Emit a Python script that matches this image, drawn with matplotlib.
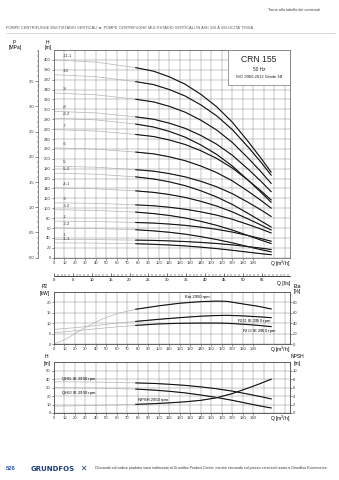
import matplotlib
matplotlib.use("Agg")
import matplotlib.pyplot as plt
from matplotlib.ticker import MultipleLocator, FormatStrFormatter
from matplotlib.patches import Rectangle

plt.rcParams['font.family'] = ['Liberation Sans Narrow', 'Liberation Sans', 'DejaVu Sans']
plt.rcParams['mathtext.default'] = 'regular'

# ---------------- data ----------------
# QH curves, CRN 155 variants (H in m at the flows in q_top)
q_top = [0, 40, 78, 95, 110, 125, 140, 155, 170, 185, 197, 207]
variants = ["-11-1", "-10", "-9", "-8", "-8-2", "-7", "-6", "-5",
            "-5-2", "-4-1", "-3", "-3-2", "-2", "-2-2", "-1", "-1-1"]
h_11_1 = [400, 395.5, 384.3, 377.1, 365.7, 350.8, 330.3, 305.4, 274, 235.2, 202.2, 173]
h_10 = [370, 366, 356, 350, 340, 327, 309, 287, 259, 224, 194, 167]
h_9 = [333, 329.4, 320.4, 315, 306, 294.3, 278.1, 258.3, 233.1, 201.6, 174.6, 150.3]
h_8 = [296, 292.8, 284.8, 280, 272, 261.6, 247.2, 229.6, 207.2, 179.2, 155.2, 133.6]
h_8_2 = [282, 278.6, 270.2, 264.2, 255.4, 243.8, 228, 209, 185.4, 156.8, 132.8, 112.2]
h_7 = [259, 256.2, 249.2, 245, 238, 228.9, 216.3, 200.9, 181.3, 156.8, 135.8, 116.9]
h_6 = [222, 219.6, 213.6, 210, 204, 196.2, 185.4, 172.2, 155.4, 134.4, 116.4, 100.2]
h_5 = [185, 183, 178, 175, 170, 163.5, 154.5, 143.5, 129.5, 112, 97, 83.5]
h_5_2 = [171, 168.8, 163.4, 159.2, 153.4, 145.7, 135.3, 122.9, 107.7, 89.6, 74.6, 62.1]
h_4_1 = [141, 139.3, 135.1, 132.1, 127.7, 121.9, 114, 104.5, 92.7, 78.4, 66.4, 56.1]
h_3 = [111, 109.8, 106.8, 105, 102, 98.1, 92.7, 86.1, 77.7, 67.2, 58.2, 50.1]
h_3_2 = [97, 95.6, 92.2, 89.2, 85.4, 80.3, 73.5, 65.5, 55.9, 44.8, 35.8, 28.7]
h_2 = [74, 73.2, 71.2, 70, 68, 65.4, 61.8, 57.4, 51.8, 44.8, 38.8, 33.4]
h_2_2 = [60, 59, 56.6, 54.2, 51.4, 47.6, 42.6, 36.8, 30, 22.4, 16.4, 12]
h_1 = [37, 36.6, 35.6, 35.0, 34.0, 32.7, 30.9, 28.7, 25.9, 22.4, 19.4, 16.7]
h_1_1 = [30, 29.5, 28.3, 27.1, 25.7, 23.8, 21.3, 18.4, 15.0, 11.2, 8.2, 6.0]
heads = [h_11_1, h_10, h_9, h_8, h_8_2, h_7, h_6, h_5,
         h_5_2, h_4_1, h_3, h_3_2, h_2, h_2_2, h_1, h_1_1]

# power and efficiency
q_pow = [0, 10, 20, 30, 45, 60, 78, 100, 120, 140, 155, 165, 182, 195, 207]
eta = [0, 8, 20, 32, 47, 58, 66.5, 73, 78, 81, 82, 81.5, 76, 72, 67]
p2_full = [7.0, 7.4, 7.8, 8.3, 9.1, 10.0, 10.8, 11.8, 12.6, 13.3, 13.6, 13.7, 13.4, 13.0, 12.6]
p2_red = [5.4, 5.8, 6.3, 6.8, 7.5, 8.2, 8.9, 9.6, 9.9, 10.0, 10.0, 9.9, 9.4, 8.9, 8.3]

# single stage QH and NPSH
q_stage = [0, 40, 78, 95, 110, 125, 140, 155, 170, 185, 197, 207]
qh_full = [37, 36.6, 35.6, 35.0, 34.0, 32.7, 30.9, 28.7, 25.9, 22.4, 19.4, 16.7]
qh_red = [30, 29.5, 28.3, 27.1, 25.7, 23.8, 21.3, 18.4, 15.0, 11.2, 8.2, 6.0]
npsh = [1.6, 1.8, 2.05, 2.2, 2.4, 2.65, 3.0, 3.6, 4.6, 5.9, 7.0, 8.0]

q_ticks = list(range(0, 200, 10))
Q_MAX = 225
Q_DARK = 78

GRID = '#8c8c8c'
LIGHT = '#b4b4b4'
DARK = '#111111'
FS = 3.0

W, H = 339, 480
fig = plt.figure(figsize=(W / 100, H / 100), dpi=100)


def box(x0, y0, x1, y1):
    # pixel box -> figure fraction
    return [x0 / W, 1 - y1 / H, (x1 - x0) / W, (y1 - y0) / H]


def style(ax, ymax, ystep, yticks):
    ax.set_xlim(0, Q_MAX)
    ax.set_ylim(0, ymax)
    ax.set_xticks(q_ticks)
    ax.set_yticks(yticks)
    ax.xaxis.set_minor_locator(MultipleLocator(10))
    ax.yaxis.set_minor_locator(MultipleLocator(ystep))
    ax.grid(True, which='both', color=GRID, lw=0.35)
    ax.tick_params(labelsize=FS, length=1.5, width=0.4, pad=0.8, colors='#333333')
    ax.tick_params(which='minor', length=0)
    for s in ax.spines.values():
        s.set_linewidth(0.5)
        s.set_color('#555555')
    ax.set_axisbelow(True)


def two_tone(ax, q, v, lw=0.8):
    ax.plot(q, v, color=LIGHT, lw=0.5)
    qd = [x for x in q if x >= Q_DARK]
    vd = [y for x, y in zip(q, v) if x >= Q_DARK]
    ax.plot(qd, vd, color=DARK, lw=lw, solid_joinstyle='round')


# ---------------- top chart: QH ----------------
ax = fig.add_axes(box(54, 50, 290, 257.7))
style(ax, 420, 20, list(range(0, 401, 20)))
for name, h in zip(variants, heads):
    two_tone(ax, q_top, h)
    ax.text(8, h[0] + 4, name, fontsize=FS, color='#333333', va='bottom')

pax = ax.secondary_yaxis(-0.068, functions=(lambda h: h * 0.00981, lambda p: p / 0.00981))
pax.set_yticks([0, 0.5, 1.0, 1.5, 2.0, 2.5, 3.0, 3.5])
pax.yaxis.set_minor_locator(MultipleLocator(0.1))
pax.yaxis.set_major_formatter(FormatStrFormatter('%.1f'))
pax.tick_params(labelsize=FS, length=2, width=0.4, pad=0.8, colors='#333333')
pax.tick_params(which='minor', length=1, width=0.3)
pax.spines['left'].set_linewidth(0.5)
pax.spines['left'].set_color('#555555')

ax.add_patch(Rectangle((0.7386, 0.8315), 0.2614, 0.1685, transform=ax.transAxes,
                       facecolor='white', edgecolor='#777777', lw=0.5, zorder=5))
fig.text(259 / W, 1 - 59 / H, "CRN 155", fontsize=6.2, ha='center', va='center', color='#222222')
fig.text(259 / W, 1 - 69.5 / H, "50 Hz", fontsize=3.4, ha='center', va='center', color='#222222')
fig.text(259 / W, 1 - 77.5 / H, "ISO 9906:2012 Grade 3B", fontsize=3.0, ha='center', va='center',
         color='#222222')

fig.text(14 / W, 1 - 42 / H, "p", fontsize=3.6, ha='center', va='center')
fig.text(15 / W, 1 - 48 / H, "[MPa]", fontsize=3.6, ha='center', va='center')
fig.text(47 / W, 1 - 42 / H, "H", fontsize=3.6, ha='center', va='center')
fig.text(48 / W, 1 - 48 / H, "[m]", fontsize=3.6, ha='center', va='center')
fig.text(290 / W, 1 - 263.5 / H, "Q [m$^3$/h]", fontsize=3.6, ha='right', va='center')

# flow in l/s
lax = fig.add_axes(box(54, 270, 290, 276))
lax.set_xlim(0, Q_MAX / 3.6)
lax.set_yticks([])
for s in ['top', 'left', 'right']:
    lax.spines[s].set_visible(False)
lax.spines['bottom'].set_linewidth(0.5)
lax.set_xticks(list(range(0, 60, 5)))
lax.xaxis.set_minor_locator(MultipleLocator(1))
lax.tick_params(axis='x', direction='in', length=2.5, width=0.4, labelsize=FS, pad=1.5)
lax.tick_params(axis='x', which='minor', direction='in', length=1.3, width=0.3)
lax.patch.set_alpha(0)
fig.text(290 / W, 1 - 284 / H, "Q [l/s]", fontsize=3.6, ha='right', va='center')

# ---------------- middle chart: P2 / Eta ----------------
ax_p = fig.add_axes(box(54, 291.7, 290, 344))
style(ax_p, 25, 5, [0, 5, 10, 15, 20])
ax_e = ax_p.twinx()
ax_e.set_ylim(0, 100)
ax_e.set_yticks([0, 20, 40, 60, 80])
ax_e.tick_params(labelsize=FS, length=1.5, width=0.4, pad=0.8, colors='#333333')
for s in ax_e.spines.values():
    s.set_linewidth(0.5)
    s.set_color('#555555')
two_tone(ax_e, q_pow, eta)
two_tone(ax_p, q_pow, p2_full)
two_tone(ax_p, q_pow, p2_red)
ax_e.text(125, 89, "Eta 2950 rpm", fontsize=FS, va='center')
ax_p.text(174, 10.9, "P2$_{1/1}$ IE 2950 rpm", fontsize=FS, va='center')
ax_p.text(179, 6.3, "P2$_{2/3}$ IE 2950 rpm", fontsize=FS, va='center')
fig.text(45 / W, 1 - 287 / H, "P2", fontsize=3.6, ha='center', va='center')
fig.text(45 / W, 1 - 293 / H, "[kW]", fontsize=3.6, ha='center', va='center')
fig.text(297 / W, 1 - 286 / H, "Eta", fontsize=3.6, ha='center', va='center')
fig.text(297 / W, 1 - 292 / H, "[%]", fontsize=3.6, ha='center', va='center')
fig.text(290 / W, 1 - 349.5 / H, "Q [m$^3$/h]", fontsize=3.6, ha='right', va='center')

# ---------------- bottom chart: QH stage / NPSH ----------------
ax_h = fig.add_axes(box(54, 362.3, 290, 413))
style(ax_h, 60, 10, [0, 10, 20, 30, 40, 50])
ax_n = ax_h.twinx()
ax_n.set_ylim(0, 12)
ax_n.set_yticks([0, 2, 4, 6, 8, 10])
ax_n.tick_params(labelsize=FS, length=1.5, width=0.4, pad=0.8, colors='#333333')
for s in ax_n.spines.values():
    s.set_linewidth(0.5)
    s.set_color('#555555')
two_tone(ax_h, q_stage, qh_full)
two_tone(ax_h, q_stage, qh_red)
two_tone(ax_n, q_stage, npsh)
ax_h.text(7, 40.5, "QH$_{1/1}$ IE 2950 rpm", fontsize=FS, va='center')
ax_h.text(7, 23.9, "QH$_{2/3}$ IE 2950 rpm", fontsize=FS, va='center')
ax_h.text(80, 15.5, "NPSH 2950 rpm", fontsize=FS, va='center')
fig.text(46 / W, 1 - 356 / H, "H", fontsize=3.6, ha='center', va='center')
fig.text(47 / W, 1 - 363 / H, "[m]", fontsize=3.6, ha='center', va='center')
fig.text(297 / W, 1 - 356 / H, "NPSH", fontsize=3.6, ha='center', va='center')
fig.text(297 / W, 1 - 363 / H, "[m]", fontsize=3.6, ha='center', va='center')
fig.text(290 / W, 1 - 418.5 / H, "Q [m$^3$/h]", fontsize=3.6, ha='right', va='center')

# ---------------- page furniture ----------------
fig.text(320 / W, 1 - 10 / H, "Torna alla tabella dei contenuti", fontsize=2.8, ha='right',
         va='center', color='#444444')
fig.text(6 / W, 1 - 28 / H,
         "POMPE CENTRIFUGHE MULTISTADIO VERTICALI \u25ba POMPE CENTRIFUGHE MULTISTADIO VERTICALI "
         "IN AISI 316 A VELOCITA' FISSA", fontsize=2.8, ha='left', va='center', color='#555555')
fig.add_artist(plt.Line2D([6 / W, 335 / W], [1 - 33 / H, 1 - 33 / H], color='#bbbbbb', lw=0.4))
fig.text(6 / W, 1 - 469 / H, "526", fontsize=4.2, ha='left', va='center', color='#2a56a5',
         fontweight='bold')
fig.text(31 / W, 1 - 469 / H, "GRUNDFOS", fontsize=5.0, ha='left', va='center', color='#1c3f7d',
         fontweight='bold', family='DejaVu Sans')
fig.text(80 / W, 1 - 468 / H, "\u2715", fontsize=5.5, ha='left', va='center', color='#1c3f7d',
         family='DejaVu Sans')
fig.text(95 / W, 1 - 468.5 / H,
         "Cliccando sul codice prodotto sarai indirizzato al Grundfos Product Center, mentre "
         "cliccando sul prezzo sarai indirizzato a Grundfos Ecommerce.",
         fontsize=2.6, ha='left', va='center', color='#333333')

fig.savefig("out.png", dpi=100)
